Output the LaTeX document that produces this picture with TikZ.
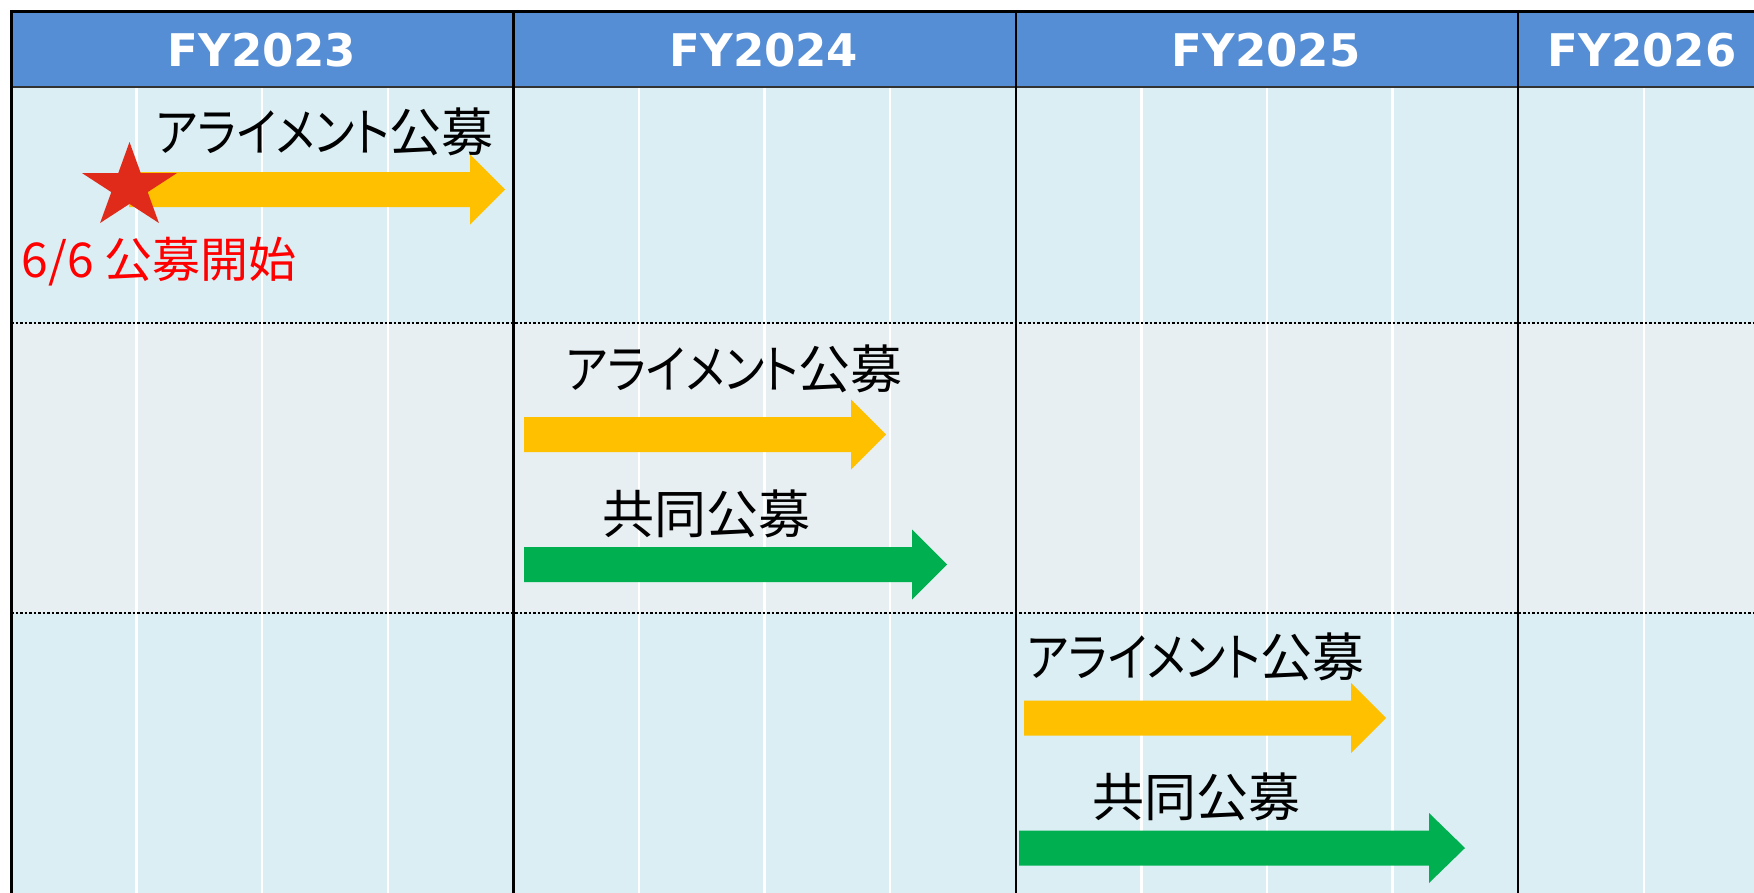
\documentclass[tikz,border=0pt]{standalone}
\usepackage{fontspec}
\usepackage{graphicx}
\newfontfamily\jpfont[RawFeature=+palt]{Noto Sans CJK JP}
\newfontfamily\hdrfont{DejaVu Sans}
\newcommand\narrowkana[1]{\scalebox{0.86}[1]{#1}}
\definecolor{hdrblue}{HTML}{558ED5}
\definecolor{rowA}{HTML}{DAEEF3}
\definecolor{rowB}{HTML}{E7EFF3}
\definecolor{arrY}{HTML}{FFC000}
\definecolor{arrG}{HTML}{00B050}
\definecolor{starred}{HTML}{E02A1A}
\tikzset{
  yeartext/.style={text=white, font=\hdrfont\bfseries\fontsize{45}{54}\selectfont, inner sep=0pt},
  jptext/.style={text=black, font=\jpfont\fontsize{52}{60}\selectfont, inner sep=0pt},
  redtext/.style={text=red, font=\jpfont\fontsize{48}{56}\selectfont, inner sep=0pt},
  qline/.style={white, line width=2.5pt},
  yline/.style={black, line width=2.5pt},
  sepline/.style={black, line width=2.5pt, dash pattern=on 2.5pt off 2pt},
}
\newcommand\mkarrow[5]{\fill[#1] (#2,{#5-17.5}) -- (#3,{#5-17.5}) -- (#3,{#5-35}) -- (#4,#5) -- (#3,{#5+35}) -- (#3,{#5+17.5}) -- (#2,{#5+17.5}) -- cycle;}
\begin{document}
\begin{tikzpicture}[x=1pt,y=-1pt]
\useasboundingbox (0,0) rectangle (1754,892);
\fill[white] (0,0) rectangle (1754,892);
\clip (0,0) rectangle (1754,892);
% backgrounds
\fill[rowA] (11,87) rectangle (1760,323);
\fill[rowB] (11,323) rectangle (1760,613);
\fill[rowA] (11,613) rectangle (1760,900);
\fill[hdrblue] (11,11) rectangle (1760,87);
% quarter lines
\foreach \k in {1,2,3,5,6,7,9,10,11,13}
  \draw[qline] ({11+125.6*\k},88) -- ({11+125.6*\k},900);
% row separators
\draw[sepline] (11,323) -- (1760,323);
\draw[sepline] (11,613) -- (1760,613);
% header bottom line
\draw[black!80, line width=2pt] (11,87) -- (1760,87);
% year dividers
\foreach \k in {1,2,3}
  \draw[yline] ({11+502.4*\k},11) -- ({11+502.4*\k},900);
% outer border
\draw[black, line width=3pt] (1760,11) -- (11,11) -- (11,900);
% headers
\node[yeartext] (h23) at (262,50.5) {FY2023};
\node[yeartext] (h24) at (764,50.5) {FY2024};
\node[yeartext] (h25) at (1266,50.5) {FY2025};
\node[yeartext] (h26) at (1642,50.5) {FY2026};
% arrows
\mkarrow{arrY}{129}{470}{505}{189.5}
\mkarrow{arrY}{524}{851}{886}{434.5}
\mkarrow{arrG}{524}{912}{947}{564.5}
\mkarrow{arrY}{1024}{1351}{1386}{718}
\mkarrow{arrG}{1019}{1429}{1465}{848}
% star
\fill[starred] (129.5,142.0) -- (118.3,173.0) -- (81.9,173.0) -- (111.3,192.1) -- (100.1,223.0)
  -- (129.5,203.9) -- (158.9,223.0) -- (147.7,192.1) -- (177.1,173.0) -- (140.7,173.0) -- cycle;
% labels
\node[jptext] (a1) at (325,131.5) {\narrowkana{アライメント}公募};
\node[redtext] (s1) at (159,261.5) {6/6 公募開始};
\node[jptext] (a2) at (734.5,368.5) {\narrowkana{アライメント}公募};
\node[jptext] (g2) at (706,514) {共同公募};
\node[jptext] (a3) at (1196,656.5) {\narrowkana{アライメント}公募};
\node[jptext] (g3) at (1196,796.5) {共同公募};
\end{tikzpicture}
\end{document}
